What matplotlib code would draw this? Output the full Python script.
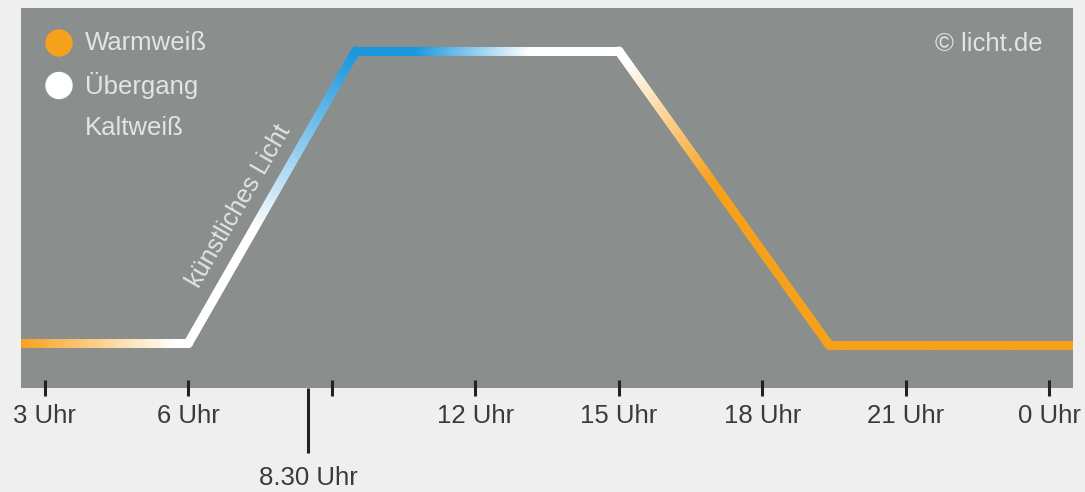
import numpy as np
import matplotlib
matplotlib.use('Agg')
from matplotlib import pyplot as plt
from matplotlib.collections import LineCollection
from matplotlib.colors import LinearSegmentedColormap
from matplotlib.patches import Ellipse

plt.rcParams['font.family'] = ['Liberation Sans', 'DejaVu Sans']

# Verlauf der Lichtfarbe über den Tag (Stunden, relative Höhe)
stunden = [2.5, 6, 9.5, 15, 19.4, 24.5]
niveau = [11.8, 11.8, 88.7, 88.7, 11.3, 11.3]

tick_stunden = [3, 6, 9, 12, 15, 18, 21, 24]
tick_labels = ['3 Uhr', '6 Uhr', '', '12 Uhr', '15 Uhr', '18 Uhr', '21 Uhr', '0 Uhr']
marke_stunde = 8.5
marke_label = '8.30 Uhr'

legende = ['Warmweiß', 'Übergang', 'Kaltweiß']

# Farbverlauf: -1 kalt (blau), 0 weiß, 1 warm (orange)
farb_stunden = [2.5, 4.0, 5.8, 7.4, 8.3, 9.5, 10.8, 13.2, 15.2, 16.0, 17.0, 24.5]
farb_werte = [1.0, 0.55, 0.0, 0.0, -0.45, -1.0, -1.0, 0.0, 0.0, 0.45, 1.0, 1.0]

cmap = LinearSegmentedColormap.from_list(
    'licht', [(0.0, '#1b97de'), (0.5, '#ffffff'), (1.0, '#f6a11c')])

grau = '#8a8e8d'
hintergrund = '#efefef'
textfarbe = '#e4e4e4'
W, H = 1085, 492

fig = plt.figure(figsize=(W / 100, H / 100), dpi=100, facecolor=hintergrund)
ax = fig.add_axes([21 / W, 104 / H, 1052 / W, 380 / H])
ax.set_facecolor(grau)
for s in ax.spines.values():
    s.set_visible(False)

# Linie fein unterteilen, damit der Farbverlauf entlang läuft
xs, ys = [], []
for i in range(len(stunden) - 1):
    xs.extend(np.linspace(stunden[i], stunden[i + 1], 120)[:-1])
    ys.extend(np.linspace(niveau[i], niveau[i + 1], 120)[:-1])
xs.append(stunden[-1])
ys.append(niveau[-1])
xs = np.array(xs)
ys = np.array(ys)
pts = np.column_stack([xs, ys]).reshape(-1, 1, 2)
segs = np.concatenate([pts[:-1], pts[1:]], axis=1)
mitte = (xs[:-1] + xs[1:]) / 2
t = np.interp(mitte, farb_stunden, farb_werte)
lc = LineCollection(segs, colors=cmap((t + 1) / 2), linewidths=6.5,
                    capstyle='round', joinstyle='round')
ax.add_collection(lc)

ax.set_xlim(stunden[0], stunden[-1])
ax.set_ylim(0, 100)
ax.set_yticks([])

ax.set_xticks(tick_stunden, labels=tick_labels)
ax.set_xticks([marke_stunde], labels=[marke_label], minor=True)
ax.tick_params(axis='x', which='major', direction='inout', length=11.5, width=2.2,
               color='#222222', pad=6, labelsize=18.5, labelcolor='#3a3a3a')
ax.tick_params(axis='x', which='minor', direction='out', length=47, width=2.2,
               color='#222222', pad=9.5, labelsize=18.5, labelcolor='#3a3a3a')

# Beschriftung an der Rampe
ax.text(7.05, 47.9, 'künstliches Licht', rotation=59.9, rotation_mode='anchor',
        ha='center', va='center', fontsize=18, color=textfarbe)

# Legende oben links
punkt_farben = ['#f6a11c', '#ffffff', None]
for i, (name, farbe) in enumerate(zip(legende, punkt_farben)):
    y = 1 - (43 + i * 42.5) / H
    if farbe is not None:
        fig.add_artist(Ellipse((59 / W, y), 26 / W, 26 / H, color=farbe,
                               transform=fig.transFigure))
    fig.text(85 / W, y, name, ha='left', va='center', fontsize=18.5, color=textfarbe)

fig.text(1043 / W, 1 - 44 / H, '© licht.de', ha='right', va='center',
         fontsize=18.5, color=textfarbe)

fig.savefig('out.png', dpi=100, facecolor=hintergrund)
